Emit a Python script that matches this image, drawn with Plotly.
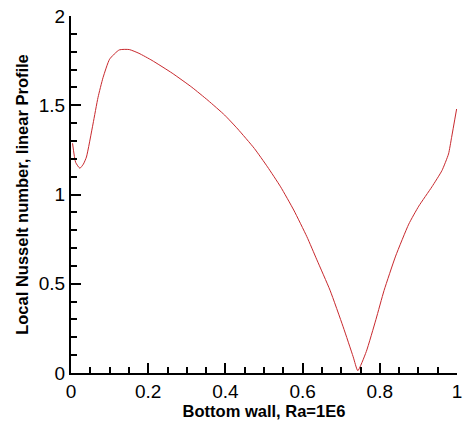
import plotly.graph_objects as go

x_pos = [0.004, 0.012, 0.023, 0.032, 0.040, 0.057, 0.070, 0.083, 0.100, 0.125, 0.151, 0.176,
         0.210, 0.262, 0.313, 0.355, 0.398, 0.432, 0.475, 0.509, 0.543, 0.577, 0.611, 0.637,
         0.671, 0.705, 0.731, 0.743, 0.765, 0.790, 0.811, 0.841, 0.875, 0.901, 0.935, 0.961,
         0.978, 0.986, 0.999]
nusselt = [1.287, 1.18, 1.147, 1.17, 1.21, 1.395, 1.544, 1.655, 1.758, 1.810, 1.812, 1.791,
           1.751, 1.680, 1.601, 1.527, 1.445, 1.367, 1.258, 1.155, 1.043, 0.913, 0.764, 0.634,
           0.464, 0.259, 0.091, 0.013, 0.12, 0.30, 0.462, 0.655, 0.834, 0.935, 1.043, 1.134,
           1.227, 1.320, 1.479]

x_title = "Bottom wall, Ra=1E6"
y_title = "Local Nusselt number, linear Profile"

fig = go.Figure()
fig.add_trace(go.Scatter(x=x_pos, y=nusselt, mode="lines",
                         line=dict(color="#c8282d", width=1, shape="spline", smoothing=0.5),
                         showlegend=False, cliponaxis=False))

font_fam = "Liberation Sans, Arial, sans-serif"
fig.update_layout(
    width=465, height=421,
    margin=dict(l=71, r=3, t=16, b=48),
    paper_bgcolor="white", plot_bgcolor="white",
    font=dict(family=font_fam, color="black"),
)
fig.update_xaxes(
    range=[0, 1], showgrid=False, zeroline=False,
    showline=True, linecolor="#000000", linewidth=2, layer="above traces",
    tickmode="linear", tick0=0, dtick=0.2,
    ticks="inside", ticklen=10, tickwidth=2, tickcolor="#000000",
    tickfont=dict(size=19), ticklabeloverflow="allow",
    minor=dict(ticks="inside", ticklen=6, tickwidth=1.5, tickcolor="#000000", dtick=0.05, showgrid=False),
    title=dict(text="<b>" + x_title + "</b>", font=dict(size=16.5), standoff=4),
)
fig.update_yaxes(
    range=[0, 2], showgrid=False, zeroline=False,
    showline=True, linecolor="#000000", linewidth=2, layer="above traces",
    tickmode="linear", tick0=0, dtick=0.5,
    ticks="inside", ticklen=10, tickwidth=2, tickcolor="#000000",
    tickfont=dict(size=19), ticklabeloverflow="allow",
    minor=dict(ticks="inside", ticklen=6, tickwidth=1.5, tickcolor="#000000", dtick=0.1, showgrid=False),
    title=dict(text="<b>" + y_title + "</b>", font=dict(size=16.5), standoff=6),
)

fig.write_html("out.html")
